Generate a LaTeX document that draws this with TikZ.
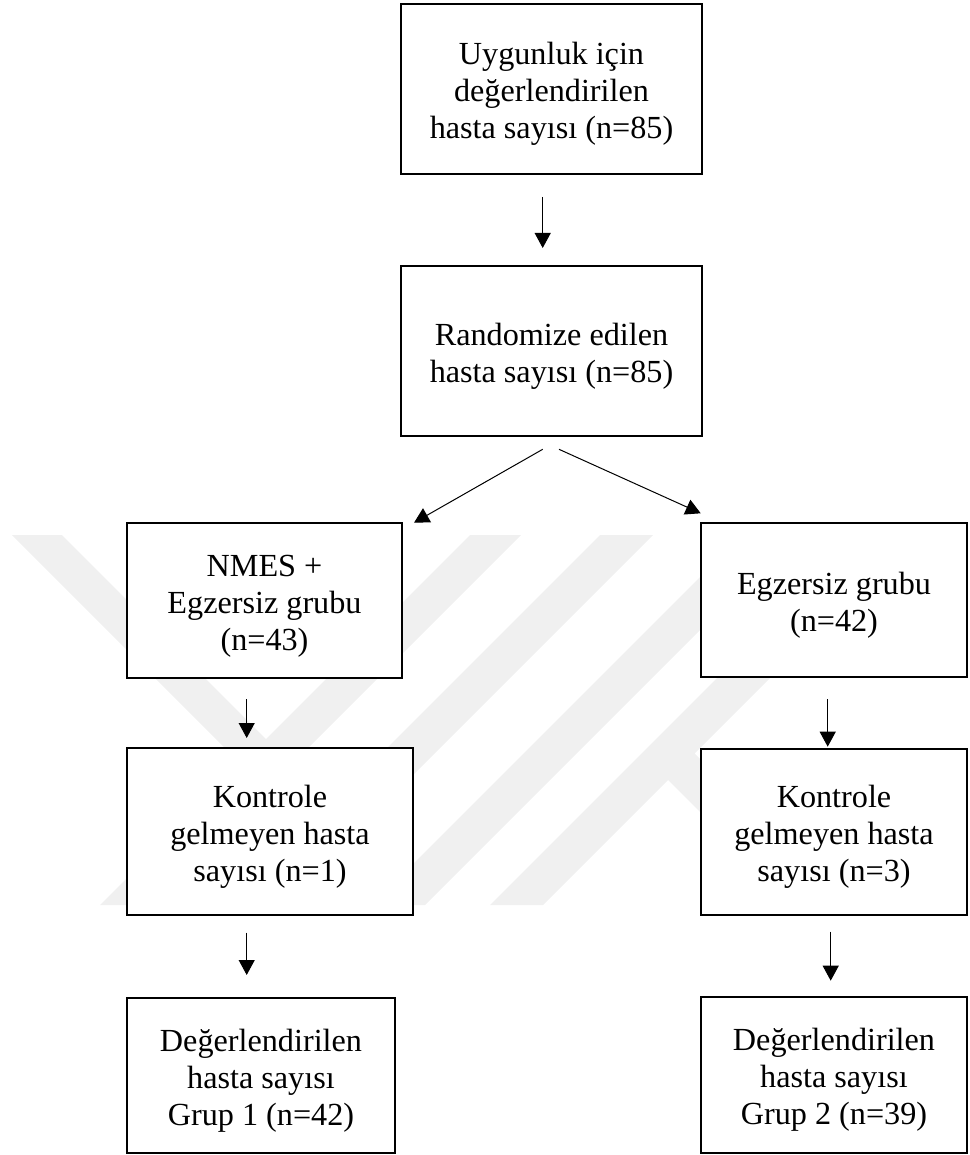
\documentclass[tikz,border=0pt]{standalone}
\usepackage{fontspec}
\setmainfont{Liberation Serif}
\usetikzlibrary{arrows.meta}
\newcommand{\tstrut}{\rule{0pt}{32pt}}
\begin{document}
\begin{tikzpicture}[x=1pt,y=-1pt,
  box/.style={draw=black, line width=2.3pt, fill=white, align=center, inner sep=0pt,
    font=\fontsize{32.2}{37}\selectfont},
  arr/.style={line width=1pt, -{Triangle[length=15pt,width=16pt]}},
  wm/.style={fill=black!6, draw=none}]
\useasboundingbox (0,0) rectangle (969,1155);
% watermark
\fill[wm] (12,535) -- (62,535) -- (266,739) -- (470,535) -- (521,535) -- (151,905) -- (100,905) -- (241,764) -- cycle;
\fill[wm] (600,535) -- (653,535) -- (283,905) -- (230,905) -- cycle;
\fill[wm] (742,535) -- (795,535) -- (425,905) -- (372,905) -- cycle;
\fill[wm] (490,905) -- (860,535) -- (913,535) -- (694.5,753.5) -- (846,905) -- (793,905) -- (668,780) -- (543,905) -- cycle;
% boxes
\node[box, minimum width=301pt, minimum height=170pt] (b1) at (551.5,89) {\tstrut Uygunluk için\\değerlendirilen\\hasta sayısı (n=85)};
\node[box, minimum width=301pt, minimum height=170pt] (b2) at (551.5,351) {\tstrut Randomize edilen\\hasta sayısı (n=85)};
\node[box, minimum width=275pt, minimum height=155pt] (b3) at (264.5,600.5) {\tstrut NMES +\\Egzersiz grubu\\(n=43)};
\node[box, minimum width=266pt, minimum height=154pt] (b4) at (834,600) {\tstrut Egzersiz grubu\\(n=42)};
\node[box, minimum width=286pt, minimum height=167pt] (b5) at (270,831.5) {\tstrut Kontrole\\gelmeyen hasta\\sayısı (n=1)};
\node[box, minimum width=266pt, minimum height=166pt] (b6) at (834,832) {\tstrut Kontrole\\gelmeyen hasta\\sayısı (n=3)};
\node[box, minimum width=268pt, minimum height=155pt] (b7) at (261,1075.5) {\tstrut Değerlendirilen\\hasta sayısı\\Grup 1 (n=42)};
\node[box, minimum width=266pt, minimum height=156pt] (b8) at (834,1075) {\tstrut Değerlendirilen\\hasta sayısı\\Grup 2 (n=39)};
% arrow end points
\coordinate (a1s) at (542.7,197);   \coordinate (a1e) at (542.7,248);
\coordinate (a2s) at (542.7,449.3); \coordinate (a2e) at (414,522.7);
\coordinate (a3s) at (559,449.3);   \coordinate (a3e) at (700.7,513.3);
\coordinate (a4s) at (246.7,699);   \coordinate (a4e) at (246.7,738);
\coordinate (a5s) at (827.7,699);   \coordinate (a5e) at (827.7,746.7);
\coordinate (a6s) at (246.7,932.7); \coordinate (a6e) at (246.7,975);
\coordinate (a7s) at (830.7,931.7); \coordinate (a7e) at (830.7,980.7);
\draw[arr] (a1s) -- (a1e);
\draw[arr] (a2s) -- (a2e);
\draw[arr] (a3s) -- (a3e);
\draw[arr] (a4s) -- (a4e);
\draw[arr] (a5s) -- (a5e);
\draw[arr] (a6s) -- (a6e);
\draw[arr] (a7s) -- (a7e);
\end{tikzpicture}
\end{document}
